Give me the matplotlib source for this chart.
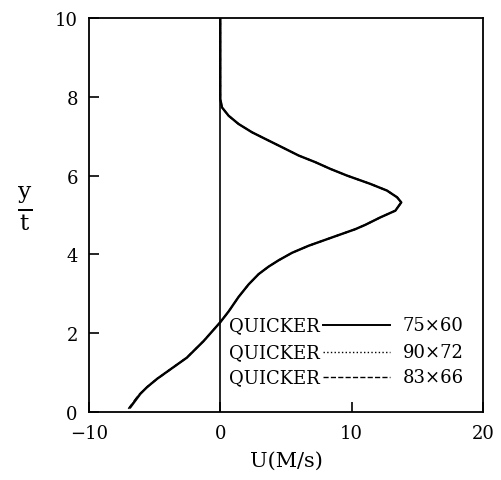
import matplotlib as mpl
import matplotlib.pyplot as plt

# velocity profiles (U in M/s, y/t)
y_75 = [0.12, 0.29, 0.46, 0.63, 0.84, 1.08, 1.38, 1.80, 2.28, 2.55, 2.92, 3.24,
        3.50, 3.69, 3.85, 4.04, 4.22, 4.43, 4.64, 4.75, 4.94, 5.11, 5.32, 5.45,
        5.62, 5.79, 6.00, 6.17, 6.34, 6.51, 6.72, 6.93, 7.10, 7.31, 7.52, 7.73,
        7.94, 10.0]
u_75 = [-6.85, -6.47, -6.09, -5.58, -4.82, -3.81, -2.54, -1.27, 0.0, 0.63, 1.39, 2.16,
        2.92, 3.68, 4.44, 5.46, 6.73, 8.50, 10.28, 11.04, 12.19, 13.33, 13.78, 13.46,
        12.69, 11.42, 9.65, 8.38, 7.24, 5.96, 4.70, 3.43, 2.41, 1.39, 0.63, 0.13,
        0.0, 0.0]

y_90 = [0.12, 0.29, 0.46, 0.63, 0.84, 1.08, 1.38, 1.80, 2.28, 2.55, 2.92, 3.24,
        3.50, 3.69, 3.85, 4.04, 4.22, 4.43, 4.64, 4.75, 4.94, 5.11, 5.32, 5.45,
        5.62, 5.79, 6.00, 6.17, 6.34, 6.51, 6.72, 6.93, 7.10, 7.31, 7.52, 7.73,
        7.94, 10.0]
u_90 = [-6.88, -6.50, -6.11, -5.60, -4.83, -3.82, -2.55, -1.27, 0.0, 0.63, 1.39, 2.16,
        2.92, 3.68, 4.44, 5.46, 6.73, 8.50, 10.28, 11.04, 12.19, 13.33, 13.78, 13.46,
        12.69, 11.42, 9.65, 8.38, 7.24, 5.96, 4.70, 3.43, 2.41, 1.39, 0.63, 0.13,
        0.0, 0.0]

y_83 = [0.08, 0.25, 0.43, 0.60, 0.82, 1.07, 1.38, 1.80, 2.28, 2.55, 2.92, 3.24,
        3.50, 3.69, 3.85, 4.04, 4.22, 4.43, 4.64, 4.75, 4.94, 5.11, 5.32, 5.45,
        5.62, 5.79, 6.00, 6.17, 6.34, 6.51, 6.72, 6.93, 7.10, 7.31, 7.52, 7.73,
        7.94, 10.0]
u_83 = [-7.00, -6.62, -6.22, -5.68, -4.88, -3.84, -2.56, -1.28, 0.0, 0.63, 1.39, 2.16,
        2.92, 3.68, 4.44, 5.46, 6.73, 8.50, 10.28, 11.04, 12.19, 13.33, 13.78, 13.46,
        12.69, 11.42, 9.65, 8.38, 7.24, 5.96, 4.70, 3.43, 2.41, 1.39, 0.63, 0.13,
        0.0, 0.0]

schemes = ['QUICKER', 'QUICKER', 'QUICKER']
grids = ['75\u00d760', '90\u00d772', '83\u00d766']
styles = ['-', ':', '--']

mpl.rcParams['font.family'] = 'DejaVu Serif'
mpl.rcParams['mathtext.fontset'] = 'dejavuserif'
mpl.rcParams['font.size'] = 13

fig = plt.figure(figsize=(5.01, 4.81), dpi=100)
ax = fig.add_axes([0.1776, 0.1414, 0.7864, 0.8191])

ax.axvline(0, color='black', lw=1.2, zorder=1)
ax.plot(u_75, y_75, color='black', lw=1.7, ls='-', zorder=3, solid_joinstyle='round')
ax.plot(u_90, y_90, color='black', lw=1.2, ls=':', zorder=2)
ax.plot(u_83, y_83, color='black', lw=1.2, ls='--', zorder=2)

ax.set_xlim(-10, 20)
ax.set_ylim(0, 10)
ax.set_xticks([-10, 0, 10, 20])
ax.set_yticks([0, 2, 4, 6, 8, 10])
ax.set_xticklabels(['\u221210', '0', '10', '20'])
ax.tick_params(direction='in', length=7, width=1.2)
ax.tick_params(axis='x', pad=9)
ax.tick_params(axis='y', pad=8)
for s in ax.spines.values():
    s.set_linewidth(1.3)

# legend, drawn by hand: name, line sample, grid size
rows = [0.221, 0.152, 0.089]
for yy, name, grid, ls in zip(rows, schemes, grids, styles):
    ax.text(0.355, yy, name, transform=ax.transAxes, va='center', ha='left', fontsize=13)
    ax.plot([0.594, 0.764], [yy, yy], transform=ax.transAxes, color='black',
            ls=ls, lw=1.4 if ls == '-' else 1.0)
    ax.text(0.797, yy, grid, transform=ax.transAxes, va='center', ha='left', fontsize=13)

ax.set_xlabel('U(M/s)', fontsize=15, labelpad=6)
fig.text(0.05, 0.567, r'$\frac{\mathrm{y}}{\mathrm{t}}$', fontsize=24, ha='center', va='center')

plt.savefig('out.png', dpi=100)
plt.close()
